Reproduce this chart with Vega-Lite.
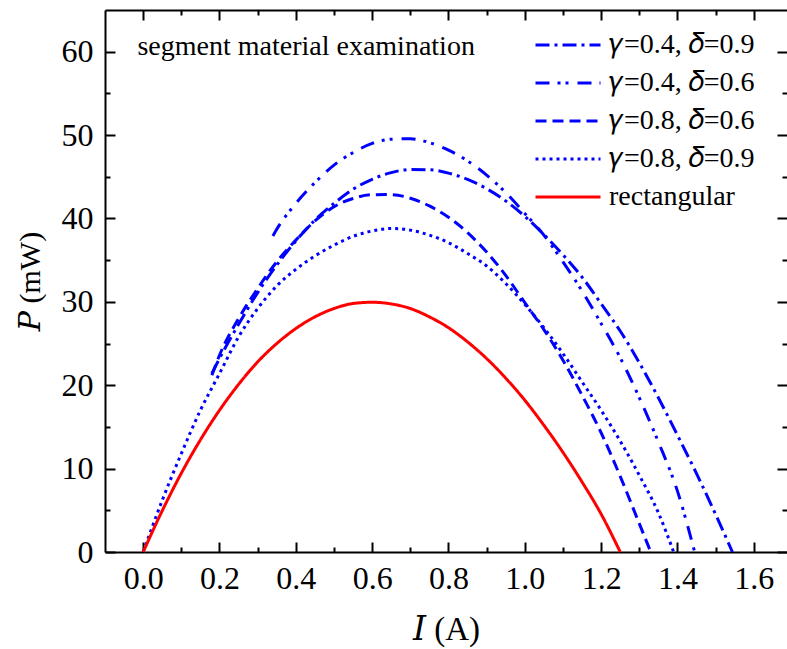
{
  "$schema": "https://vega.github.io/schema/vega-lite/v6.json",
  "width": 682,
  "height": 542,
  "autosize": {"type": "none"},
  "padding": {"left": 105, "top": 10, "right": 0, "bottom": 97},
  "background": "white",
  "config": {
    "view": {"stroke": null},
    "font": "Liberation Serif",
    "axis": {
      "grid": false,
      "domainColor": "#000",
      "domainWidth": 2,
      "tickColor": "#000",
      "tickWidth": 2
    }
  },
  "datasets": {
    "curves": [
      {"I": 0.18, "P": 21.4, "series": "γ=0.4, δ=0.9"},
      {"I": 0.2, "P": 23.2, "series": "γ=0.4, δ=0.9"},
      {"I": 0.25, "P": 27.3, "series": "γ=0.4, δ=0.9"},
      {"I": 0.3, "P": 31.1, "series": "γ=0.4, δ=0.9"},
      {"I": 0.35, "P": 34.4, "series": "γ=0.4, δ=0.9"},
      {"I": 0.4, "P": 37.3, "series": "γ=0.4, δ=0.9"},
      {"I": 0.45, "P": 39.8, "series": "γ=0.4, δ=0.9"},
      {"I": 0.5, "P": 41.8, "series": "γ=0.4, δ=0.9"},
      {"I": 0.55, "P": 43.5, "series": "γ=0.4, δ=0.9"},
      {"I": 0.6, "P": 44.7, "series": "γ=0.4, δ=0.9"},
      {"I": 0.65, "P": 45.5, "series": "γ=0.4, δ=0.9"},
      {"I": 0.7, "P": 45.87, "series": "γ=0.4, δ=0.9"},
      {"I": 0.75, "P": 45.84, "series": "γ=0.4, δ=0.9"},
      {"I": 0.8, "P": 45.44, "series": "γ=0.4, δ=0.9"},
      {"I": 0.85, "P": 44.68, "series": "γ=0.4, δ=0.9"},
      {"I": 0.9, "P": 43.57, "series": "γ=0.4, δ=0.9"},
      {"I": 0.95, "P": 42.1, "series": "γ=0.4, δ=0.9"},
      {"I": 1.0, "P": 40.26, "series": "γ=0.4, δ=0.9"},
      {"I": 1.05, "P": 38.06, "series": "γ=0.4, δ=0.9"},
      {"I": 1.1, "P": 35.65, "series": "γ=0.4, δ=0.9"},
      {"I": 1.15, "P": 32.96, "series": "γ=0.4, δ=0.9"},
      {"I": 1.2, "P": 29.77, "series": "γ=0.4, δ=0.9"},
      {"I": 1.25, "P": 26.5, "series": "γ=0.4, δ=0.9"},
      {"I": 1.3, "P": 22.7, "series": "γ=0.4, δ=0.9"},
      {"I": 1.35, "P": 18.5, "series": "γ=0.4, δ=0.9"},
      {"I": 1.4, "P": 14.0, "series": "γ=0.4, δ=0.9"},
      {"I": 1.45, "P": 9.4, "series": "γ=0.4, δ=0.9"},
      {"I": 1.5, "P": 4.5, "series": "γ=0.4, δ=0.9"},
      {"I": 1.544, "P": 0, "series": "γ=0.4, δ=0.9"},

      {"I": 0.34, "P": 37.9, "series": "γ=0.4, δ=0.6"},
      {"I": 0.35, "P": 38.7, "series": "γ=0.4, δ=0.6"},
      {"I": 0.4, "P": 41.8, "series": "γ=0.4, δ=0.6"},
      {"I": 0.45, "P": 44.3, "series": "γ=0.4, δ=0.6"},
      {"I": 0.5, "P": 46.4, "series": "γ=0.4, δ=0.6"},
      {"I": 0.55, "P": 47.9, "series": "γ=0.4, δ=0.6"},
      {"I": 0.6, "P": 49.0, "series": "γ=0.4, δ=0.6"},
      {"I": 0.65, "P": 49.5, "series": "γ=0.4, δ=0.6"},
      {"I": 0.7, "P": 49.56, "series": "γ=0.4, δ=0.6"},
      {"I": 0.75, "P": 49.1, "series": "γ=0.4, δ=0.6"},
      {"I": 0.8, "P": 48.2, "series": "γ=0.4, δ=0.6"},
      {"I": 0.85, "P": 46.9, "series": "γ=0.4, δ=0.6"},
      {"I": 0.9, "P": 45.2, "series": "γ=0.4, δ=0.6"},
      {"I": 0.95, "P": 43.1, "series": "γ=0.4, δ=0.6"},
      {"I": 1.0, "P": 40.6, "series": "γ=0.4, δ=0.6"},
      {"I": 1.05, "P": 38.0, "series": "γ=0.4, δ=0.6"},
      {"I": 1.1, "P": 34.8, "series": "γ=0.4, δ=0.6"},
      {"I": 1.15, "P": 31.3, "series": "γ=0.4, δ=0.6"},
      {"I": 1.2, "P": 27.4, "series": "γ=0.4, δ=0.6"},
      {"I": 1.25, "P": 23.3, "series": "γ=0.4, δ=0.6"},
      {"I": 1.3, "P": 18.5, "series": "γ=0.4, δ=0.6"},
      {"I": 1.35, "P": 13.2, "series": "γ=0.4, δ=0.6"},
      {"I": 1.4, "P": 7.3, "series": "γ=0.4, δ=0.6"},
      {"I": 1.445, "P": 0, "series": "γ=0.4, δ=0.6"},

      {"I": 0.18, "P": 21.2, "series": "γ=0.8, δ=0.6"},
      {"I": 0.2, "P": 23.6, "series": "γ=0.8, δ=0.6"},
      {"I": 0.25, "P": 28.0, "series": "γ=0.8, δ=0.6"},
      {"I": 0.3, "P": 31.6, "series": "γ=0.8, δ=0.6"},
      {"I": 0.35, "P": 34.8, "series": "γ=0.8, δ=0.6"},
      {"I": 0.4, "P": 37.4, "series": "γ=0.8, δ=0.6"},
      {"I": 0.45, "P": 39.7, "series": "γ=0.8, δ=0.6"},
      {"I": 0.5, "P": 41.4, "series": "γ=0.8, δ=0.6"},
      {"I": 0.55, "P": 42.4, "series": "γ=0.8, δ=0.6"},
      {"I": 0.6, "P": 42.85, "series": "γ=0.8, δ=0.6"},
      {"I": 0.65, "P": 42.86, "series": "γ=0.8, δ=0.6"},
      {"I": 0.7, "P": 42.43, "series": "γ=0.8, δ=0.6"},
      {"I": 0.75, "P": 41.5, "series": "γ=0.8, δ=0.6"},
      {"I": 0.8, "P": 40.15, "series": "γ=0.8, δ=0.6"},
      {"I": 0.85, "P": 38.3, "series": "γ=0.8, δ=0.6"},
      {"I": 0.9, "P": 35.97, "series": "γ=0.8, δ=0.6"},
      {"I": 0.95, "P": 33.17, "series": "γ=0.8, δ=0.6"},
      {"I": 1.0, "P": 29.9, "series": "γ=0.8, δ=0.6"},
      {"I": 1.05, "P": 26.67, "series": "γ=0.8, δ=0.6"},
      {"I": 1.1, "P": 23.0, "series": "γ=0.8, δ=0.6"},
      {"I": 1.15, "P": 18.8, "series": "γ=0.8, δ=0.6"},
      {"I": 1.2, "P": 14.3, "series": "γ=0.8, δ=0.6"},
      {"I": 1.25, "P": 9.07, "series": "γ=0.8, δ=0.6"},
      {"I": 1.3, "P": 3.4, "series": "γ=0.8, δ=0.6"},
      {"I": 1.33, "P": 0, "series": "γ=0.8, δ=0.6"},

      {"I": 0.0, "P": 0, "series": "γ=0.8, δ=0.9"},
      {"I": 0.05, "P": 6.2, "series": "γ=0.8, δ=0.9"},
      {"I": 0.1, "P": 11.8, "series": "γ=0.8, δ=0.9"},
      {"I": 0.15, "P": 17.0, "series": "γ=0.8, δ=0.9"},
      {"I": 0.2, "P": 21.4, "series": "γ=0.8, δ=0.9"},
      {"I": 0.25, "P": 25.8, "series": "γ=0.8, δ=0.9"},
      {"I": 0.3, "P": 29.2, "series": "γ=0.8, δ=0.9"},
      {"I": 0.35, "P": 31.9, "series": "γ=0.8, δ=0.9"},
      {"I": 0.4, "P": 33.9, "series": "γ=0.8, δ=0.9"},
      {"I": 0.45, "P": 35.5, "series": "γ=0.8, δ=0.9"},
      {"I": 0.5, "P": 36.8, "series": "γ=0.8, δ=0.9"},
      {"I": 0.55, "P": 37.85, "series": "γ=0.8, δ=0.9"},
      {"I": 0.6, "P": 38.5, "series": "γ=0.8, δ=0.9"},
      {"I": 0.65, "P": 38.8, "series": "γ=0.8, δ=0.9"},
      {"I": 0.7, "P": 38.6, "series": "γ=0.8, δ=0.9"},
      {"I": 0.75, "P": 38.0, "series": "γ=0.8, δ=0.9"},
      {"I": 0.8, "P": 37.1, "series": "γ=0.8, δ=0.9"},
      {"I": 0.85, "P": 35.8, "series": "γ=0.8, δ=0.9"},
      {"I": 0.9, "P": 34.3, "series": "γ=0.8, δ=0.9"},
      {"I": 0.95, "P": 32.2, "series": "γ=0.8, δ=0.9"},
      {"I": 1.0, "P": 29.7, "series": "γ=0.8, δ=0.9"},
      {"I": 1.05, "P": 26.9, "series": "γ=0.8, δ=0.9"},
      {"I": 1.1, "P": 23.8, "series": "γ=0.8, δ=0.9"},
      {"I": 1.15, "P": 20.4, "series": "γ=0.8, δ=0.9"},
      {"I": 1.2, "P": 17.0, "series": "γ=0.8, δ=0.9"},
      {"I": 1.25, "P": 13.3, "series": "γ=0.8, δ=0.9"},
      {"I": 1.3, "P": 9.2, "series": "γ=0.8, δ=0.9"},
      {"I": 1.35, "P": 4.7, "series": "γ=0.8, δ=0.9"},
      {"I": 1.39, "P": 0, "series": "γ=0.8, δ=0.9"},

      {"I": 0.0, "P": 0, "series": "rectangular"},
      {"I": 0.05, "P": 4.95, "series": "rectangular"},
      {"I": 0.1, "P": 9.45, "series": "rectangular"},
      {"I": 0.15, "P": 13.45, "series": "rectangular"},
      {"I": 0.2, "P": 17.0, "series": "rectangular"},
      {"I": 0.25, "P": 20.1, "series": "rectangular"},
      {"I": 0.3, "P": 22.8, "series": "rectangular"},
      {"I": 0.35, "P": 25.0, "series": "rectangular"},
      {"I": 0.4, "P": 26.8, "series": "rectangular"},
      {"I": 0.45, "P": 28.2, "series": "rectangular"},
      {"I": 0.5, "P": 29.2, "series": "rectangular"},
      {"I": 0.55, "P": 29.8, "series": "rectangular"},
      {"I": 0.6, "P": 29.95, "series": "rectangular"},
      {"I": 0.65, "P": 29.75, "series": "rectangular"},
      {"I": 0.7, "P": 29.2, "series": "rectangular"},
      {"I": 0.75, "P": 28.2, "series": "rectangular"},
      {"I": 0.8, "P": 26.9, "series": "rectangular"},
      {"I": 0.85, "P": 25.2, "series": "rectangular"},
      {"I": 0.9, "P": 23.2, "series": "rectangular"},
      {"I": 0.95, "P": 20.85, "series": "rectangular"},
      {"I": 1.0, "P": 18.2, "series": "rectangular"},
      {"I": 1.05, "P": 15.2, "series": "rectangular"},
      {"I": 1.1, "P": 11.95, "series": "rectangular"},
      {"I": 1.15, "P": 8.4, "series": "rectangular"},
      {"I": 1.2, "P": 4.55, "series": "rectangular"},
      {"I": 1.25, "P": 0, "series": "rectangular"}
    ]
  },
  "layer": [
    {
      "data": {"name": "curves"},
      "mark": {"type": "line", "strokeWidth": 3, "interpolate": "monotone", "strokeCap": "butt"},
      "encoding": {
        "x": {
          "field": "I",
          "type": "quantitative",
          "scale": {"domain": [-0.1, 1.687], "nice": false, "zero": false},
          "axis": {
            "orient": "bottom",
            "values": [0, 0.1, 0.2, 0.3, 0.4, 0.5, 0.6, 0.7, 0.8, 0.9, 1.0, 1.1, 1.2, 1.3, 1.4, 1.5, 1.6],
            "tickSize": -10,
            "labelPadding": 21,
            "labelOverlap": false,
            "labelFlush": false,
            "labelFont": "Liberation Serif",
            "labelFontSize": 32,
            "labelColor": "#000",
            "labelExpr": "round(datum.value * 10) % 2 == 0 ? format(datum.value, '.1f') : ''",
            "encoding": {
              "ticks": {"y2": {"condition": {"test": "round(datum.value * 10) % 2 == 0", "value": -10}, "value": -5}}
            },
            "title": "𝐼 (A)",
            "titleFont": "Liberation Serif, DejaVu Serif",
            "titleFontSize": 33,
            "titleFontWeight": "normal",
            "titleColor": "#000",
            "titlePadding": 19
          }
        },
        "y": {
          "field": "P",
          "type": "quantitative",
          "scale": {"domain": [0, 65], "nice": false},
          "axis": {
            "orient": "left",
            "values": [0, 5, 10, 15, 20, 25, 30, 35, 40, 45, 50, 55, 60],
            "tickSize": -10,
            "labelPadding": 22,
            "labelOverlap": false,
            "labelFlush": false,
            "labelFont": "Liberation Serif",
            "labelFontSize": 32,
            "labelColor": "#000",
            "labelExpr": "datum.value % 10 == 0 ? datum.label : ''",
            "encoding": {
              "ticks": {"x2": {"condition": {"test": "datum.value % 10 == 0", "value": 10}, "value": 5}}
            },
            "title": "𝑃 (mW)",
            "titleFont": "Liberation Serif, DejaVu Serif",
            "titleFontSize": 30,
            "titleFontWeight": "normal",
            "titleColor": "#000",
            "titlePadding": 16
          }
        },
        "color": {
          "field": "series",
          "type": "nominal",
          "scale": {
            "domain": ["γ=0.4, δ=0.9", "γ=0.4, δ=0.6", "γ=0.8, δ=0.6", "γ=0.8, δ=0.9", "rectangular"],
            "range": ["#0000ff", "#0000ff", "#0000ff", "#0000ff", "#ff0000"]
          },
          "legend": {
            "title": null, "orient": "none", "legendX": 449, "legendY": 21,
            "symbolType": "M-5,0H5", "symbolSize": 169, "symbolStrokeWidth": 3,
            "labelFont": "Liberation Serif, DejaVu Serif", "labelFontSize": 28, "labelColor": "#000",
            "labelOffset": 27, "rowPadding": 10, "padding": 0, "labelLimit": 400,
            "labelExpr": "replace(replace(datum.label, 'γ', '𝛾'), 'δ', '𝛿')"
          }
        },
        "strokeDash": {
          "field": "series",
          "type": "nominal",
          "scale": {
            "domain": ["γ=0.4, δ=0.9", "γ=0.4, δ=0.6", "γ=0.8, δ=0.6", "γ=0.8, δ=0.9", "rectangular"],
            "range": [[14, 5, 3, 5], [14, 8, 3, 5, 3, 9], [11, 6], [3, 4], [1, 0]]
          },
          "legend": {
            "title": null, "orient": "none", "legendX": 449, "legendY": 21,
            "symbolType": "M-5,0H5", "symbolSize": 169, "symbolStrokeWidth": 3,
            "labelFont": "Liberation Serif, DejaVu Serif", "labelFontSize": 28, "labelColor": "#000",
            "labelOffset": 27, "rowPadding": 10, "padding": 0, "labelLimit": 400,
            "labelExpr": "replace(replace(datum.label, 'γ', '𝛾'), 'δ', '𝛿')"
          }
        }
      }
    },
    {
      "data": {"name": "curves"},
      "mark": {"type": "line", "opacity": 0},
      "encoding": {
        "x": {
          "field": "I",
          "type": "quantitative",
          "scale": {"domain": [-0.1, 1.687], "nice": false, "zero": false},
          "axis": {
            "orient": "top",
            "values": [0, 0.1, 0.2, 0.3, 0.4, 0.5, 0.6, 0.7, 0.8, 0.9, 1.0, 1.1, 1.2, 1.3, 1.4, 1.5, 1.6],
            "labels": false,
            "title": null,
            "tickSize": -10,
            "encoding": {"ticks": {"y2": {"condition": {"test": "round(datum.value * 10) % 2 == 0", "value": 10}, "value": 5}}}
          }
        },
        "y": {
          "field": "P",
          "type": "quantitative",
          "scale": {"domain": [0, 65], "nice": false},
          "axis": {
            "orient": "right",
            "values": [0, 5, 10, 15, 20, 25, 30, 35, 40, 45, 50, 55, 60],
            "labels": false,
            "title": null,
            "domain": false,
            "tickSize": -10,
            "encoding": {"ticks": {"x2": {"condition": {"test": "datum.value % 10 == 0", "value": -10}, "value": -5}}}
          }
        },
        "detail": {"field": "series"}
      }
    },
    {
      "data": {"values": [{"note": "segment material examination"}]},
      "mark": {"type": "text", "align": "left", "baseline": "alphabetic", "font": "Liberation Serif", "fontSize": 28, "color": "#000"},
      "encoding": {
        "x": {"datum": -0.015, "type": "quantitative", "scale": {"domain": [-0.1, 1.687], "nice": false, "zero": false}, "axis": null},
        "y": {"datum": 59.6, "type": "quantitative", "scale": {"domain": [0, 65], "nice": false}, "axis": null},
        "text": {"field": "note"}
      }
    }
  ],
  "resolve": {"axis": {"x": "independent", "y": "independent"}}
}
